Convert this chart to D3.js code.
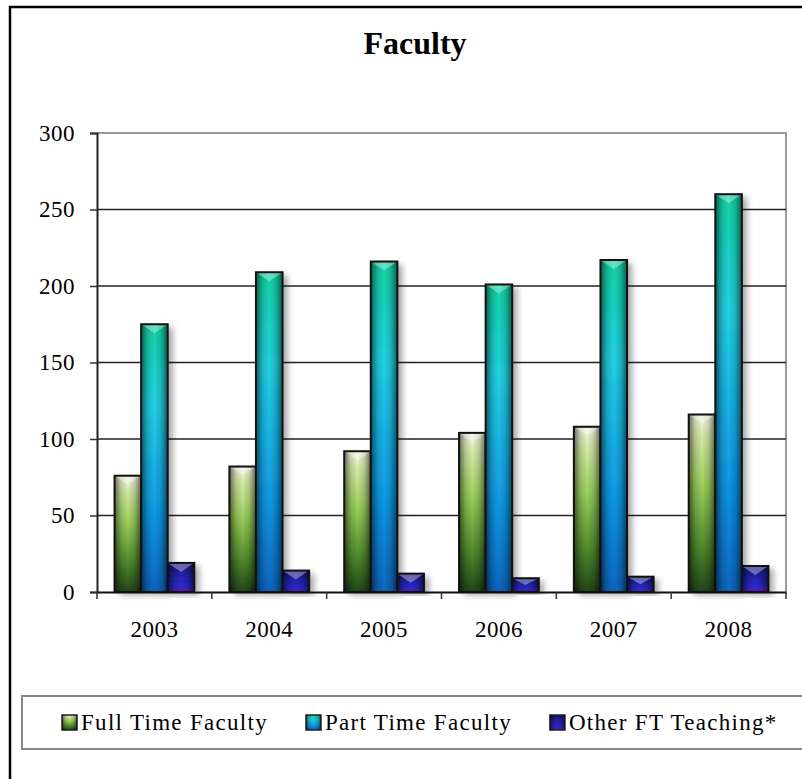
<!DOCTYPE html>
<meta charset="utf-8">
<script src="https://d3js.org/d3.v7.min.js"></script>
<style>
  body { margin: 0; background: #fff; }
  text { font-family: "Book Antiqua", "Palatino Linotype", "Liberation Serif", serif; fill: #000; }
</style>
<div id="chart"></div>
<script>
// data
var years = ["2003", "2004", "2005", "2006", "2007", "2008"];
var seriesNames = ["Full Time Faculty", "Part Time Faculty", "Other FT Teaching*"];
var fullTime = [76, 82, 92, 104, 108, 116];
var partTime = [175, 209, 216, 201, 217, 260];
var otherFT = [19, 14, 12, 9, 10, 17];
var yTicks = [0, 50, 100, 150, 200, 250, 300];

var keys = ["full", "part", "other"];
var values = {full: fullTime, part: partTime, other: otherFT};

var W = 802, H = 779;
var margin = {top: 133, left: 97, right: 16, bottom: 187};
var width = W - margin.left - margin.right,
    height = H - margin.top - margin.bottom;

var svg = d3.select("#chart").append("svg")
    .attr("width", W).attr("height", H);

var defs = svg.append("defs");

// vertical colour ramps for each series
var ramps = {
  full: [["0%", "#f4f8e4"], ["12%", "#d6eaa8"], ["40%", "#9cd05c"], ["75%", "#4f8a2c"], ["100%", "#23461a"]],
  part: [["0%", "#10d4a4"], ["30%", "#22d2e4"], ["70%", "#109ce8"], ["100%", "#0a66c0"]],
  other: [["0%", "#14147a"], ["45%", "#2424b4"], ["80%", "#2a2ad0"], ["100%", "#6a1ab4"]]
};
keys.forEach(function(k) {
  var g = defs.append("linearGradient").attr("id", "g-" + k)
      .attr("x1", 0).attr("y1", 0).attr("x2", 0).attr("y2", 1);
  ramps[k].forEach(function(s) { g.append("stop").attr("offset", s[0]).attr("stop-color", s[1]); });
});

// sideways shading: darker edges
var side = defs.append("linearGradient").attr("id", "side")
    .attr("x1", 0).attr("y1", 0).attr("x2", 1).attr("y2", 0);
[["0%", 0.55], ["25%", 0.15], ["50%", 0], ["75%", 0.15], ["100%", 0.55]].forEach(function(s) {
  side.append("stop").attr("offset", s[0]).attr("stop-color", "#000").attr("stop-opacity", s[1]);
});

var shadow = defs.append("filter").attr("id", "shadow")
    .attr("x", "-20%").attr("y", "-10%").attr("width", "160%").attr("height", "130%");
shadow.append("feDropShadow").attr("dx", 5).attr("dy", 3)
    .attr("stdDeviation", 3).attr("flood-color", "#000").attr("flood-opacity", 0.35);

// outer frame
svg.append("rect")
    .attr("x", 10).attr("y", 7).attr("width", 820).attr("height", 820)
    .attr("fill", "none").attr("stroke", "#000").attr("stroke-width", 2.5);

svg.append("text")
    .attr("x", 415).attr("y", 54)
    .attr("text-anchor", "middle")
    .style("font-size", "32px").style("font-weight", "bold")
    .text("Faculty");

var g = svg.append("g")
    .attr("transform", "translate(" + margin.left + "," + margin.top + ")");

var x0 = d3.scaleBand().domain(years).range([0, width]).padding(0);
var x1 = d3.scaleBand().domain(keys).range([0, x0.bandwidth()])
    .paddingInner(0).paddingOuter(0.66);
var y = d3.scaleLinear().domain([0, 300]).range([height, 0]);

// plot area border (top/right in grey)
g.append("path")
    .attr("d", "M0,0H" + width + "V" + height)
    .attr("fill", "none").attr("stroke", "#999").attr("stroke-width", 2);

// grid lines
g.append("g")
  .selectAll("line")
  .data(yTicks.filter(function(d) { return d > 0 && d < 300; }))
  .join("line")
    .attr("x1", 0).attr("x2", width)
    .attr("y1", function(d) { return y(d); })
    .attr("y2", function(d) { return y(d); })
    .attr("stroke", "#222").attr("stroke-width", 1.5);

// y axis
var yAxis = g.append("g")
    .call(d3.axisLeft(y).tickValues(yTicks).tickSize(7).tickPadding(15));
yAxis.select(".domain").attr("stroke", "#222").attr("stroke-width", 2);
yAxis.selectAll(".tick line").attr("stroke", "#333").attr("stroke-width", 1.5);
yAxis.selectAll("text").style("font-size", "23px").style("letter-spacing", "0.5px")
    .style("font-family", "'Book Antiqua','Palatino Linotype','Liberation Serif',serif");

// bars
var groups = g.append("g").selectAll("g")
  .data(years)
  .join("g")
    .attr("transform", function(d) { return "translate(" + x0(d) + ",0)"; });

var bars = groups.selectAll("g.bar")
  .data(function(d, i) { return keys.map(function(k) { return {key: k, value: values[k][i]}; }); })
  .join("g").attr("class", "bar");

bars.append("rect")
    .attr("x", function(d) { return x1(d.key); })
    .attr("y", function(d) { return y(d.value); })
    .attr("width", x1.bandwidth())
    .attr("height", function(d) { return height - y(d.value); })
    .attr("fill", function(d) { return "url(#g-" + d.key + ")"; })
    .attr("filter", "url(#shadow)");

bars.append("rect")
    .attr("x", function(d) { return x1(d.key); })
    .attr("y", function(d) { return y(d.value); })
    .attr("width", x1.bandwidth())
    .attr("height", function(d) { return height - y(d.value); })
    .attr("fill", "url(#side)");

// bevel cap on top
bars.append("path")
    .attr("d", function(d) {
      var xl = x1(d.key), xr = xl + x1.bandwidth(), yt = y(d.value);
      var dep = Math.min(9, (height - yt) / 2);
      return "M" + xl + "," + yt + "L" + xr + "," + yt + "L" + (xl + x1.bandwidth() / 2) + "," + (yt + dep) + "Z";
    })
    .attr("fill", "#fff").attr("fill-opacity", 0.35);

bars.append("rect")
    .attr("x", function(d) { return x1(d.key); })
    .attr("y", function(d) { return y(d.value); })
    .attr("width", x1.bandwidth())
    .attr("height", function(d) { return height - y(d.value); })
    .attr("fill", "none").attr("stroke", "#111").attr("stroke-width", 2);

// x axis
var xAxis = g.append("g")
    .attr("transform", "translate(0," + height + ")")
    .call(d3.axisBottom(x0).tickSize(0).tickPadding(29));
xAxis.select(".domain").attr("stroke", "#111").attr("stroke-width", 2);
xAxis.selectAll("text").style("font-size", "23px").style("letter-spacing", "0.5px")
    .style("font-family", "'Book Antiqua','Palatino Linotype','Liberation Serif',serif");

// boundary ticks between categories
g.append("g")
  .selectAll("line")
  .data(years.concat(["end"]))
  .join("line")
    .attr("x1", function(d, i) { return i * x0.step(); })
    .attr("x2", function(d, i) { return i * x0.step(); })
    .attr("y1", height).attr("y2", height + 7)
    .attr("stroke", "#333").attr("stroke-width", 1.5);

// legend
svg.append("rect")
    .attr("x", 22).attr("y", 696).attr("width", 800).attr("height", 53)
    .attr("fill", "none").attr("stroke", "#888").attr("stroke-width", 2);

var lx = 62;
keys.forEach(function(k, i) {
  var item = svg.append("g").attr("transform", "translate(" + lx + ",715)");
  item.append("rect").attr("width", 15).attr("height", 15)
      .attr("fill", "url(#g-" + k + ")").attr("stroke", "#222").attr("stroke-width", 1.5);
  item.append("rect").attr("width", 15).attr("height", 15).attr("fill", "url(#side)");
  var t = item.append("text").attr("x", 19).attr("y", 15)
      .style("font-size", "23px").style("letter-spacing", "1.3px").text(seriesNames[i]);
  lx += 19 + t.node().getComputedTextLength() + 38;
});
</script>
